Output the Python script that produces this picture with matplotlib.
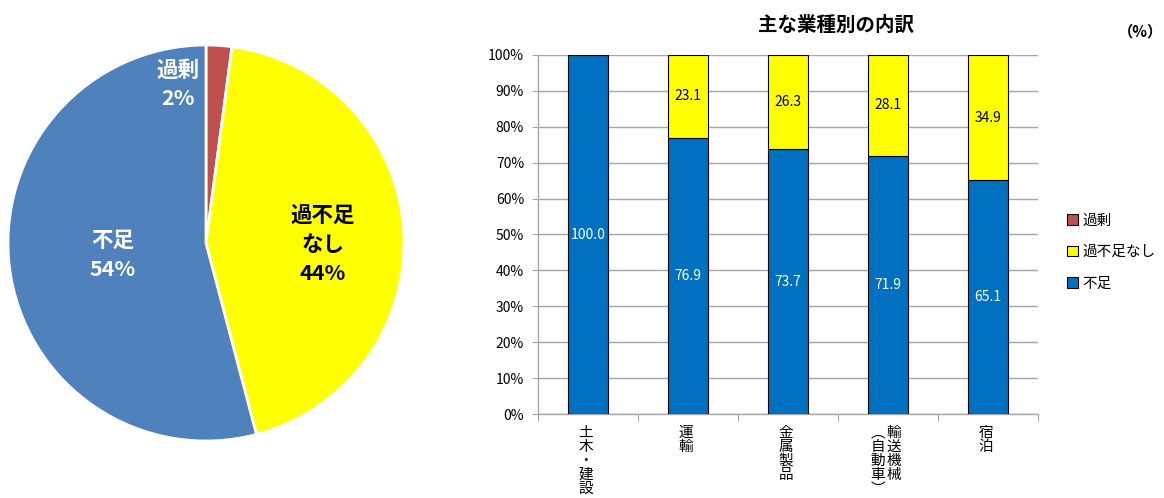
import matplotlib

matplotlib.use("Agg")

import matplotlib.pyplot as plt
import numpy as np

plt.rcParams["font.family"] = ["Noto Sans CJK JP", "DejaVu Sans"]

# pie: overall share
pie_labels = ["過剰", "過不足\nなし", "不足"]
pie_values = [2.1, 43.8, 54.1]
pie_pct = ["2%", "44%", "54%"]

# bars: breakdown by industry
industries = ["土木・建設", "運輸", "金属製品", "輸送機械", "宿泊"]
shortage = [100.0, 76.9, 73.7, 71.9, 65.1]
no_gap = [0.0, 23.1, 26.3, 28.1, 34.9]
surplus = [0.0, 0.0, 0.0, 0.0, 0.0]
series_names = ["過剰", "過不足なし", "不足"]
yticks = np.arange(0, 101, 10)

PIE_RED = "#C0504D"
PIE_YEL = "#FFFF00"
PIE_BLUE = "#4F81BD"
BAR_BLUE = "#0070C0"
BAR_YEL = "#FFFF00"
GRID = "#A6A6A6"

fig = plt.figure(figsize=(11.64, 4.98), dpi=100)

# --- pie -------------------------------------------------------------------
ax1 = fig.add_axes([8 / 1164, 57 / 498, 396 / 1164, 396 / 498])
ax1.pie(pie_values, colors=[PIE_RED, PIE_YEL, PIE_BLUE],
        startangle=90, counterclock=False, radius=1.0,
        wedgeprops=dict(edgecolor="white", linewidth=2))
ax1.set_xlim(-1, 1)
ax1.set_ylim(-1, 1)
ax1.set_aspect("equal")
ax1.axis("off")
pie_font = dict(fontsize=15.5, fontweight="bold", ha="center", va="center",
                linespacing=1.45)
ax1.text(-0.14, 0.80, f"{pie_labels[0]}\n{pie_pct[0]}", color="white", **pie_font)
ax1.text(0.59, -0.01, f"{pie_labels[1]}\n{pie_pct[1]}", color="black", **pie_font)
ax1.text(-0.47, -0.06, f"{pie_labels[2]}\n{pie_pct[2]}", color="white", **pie_font)

# --- stacked bars ----------------------------------------------------------
ax2 = fig.add_axes([538 / 1164, 84 / 498, 500 / 1164, 359 / 498])
x = np.arange(len(industries))
ax2.bar(x, shortage, width=0.4, color=BAR_BLUE, edgecolor="black",
        linewidth=0.8, zorder=3)
ax2.bar(x, no_gap, width=0.4, bottom=shortage, color=BAR_YEL,
        edgecolor="black", linewidth=0.8, zorder=3)
for i in range(len(industries)):
    ax2.text(x[i], shortage[i] / 2, f"{shortage[i]:.1f}", color="white",
             ha="center", va="center", fontsize=10, zorder=4)
    if no_gap[i] > 0:
        ax2.text(x[i], shortage[i] + no_gap[i] / 2, f"{no_gap[i]:.1f}",
                 color="black", ha="center", va="center", fontsize=10, zorder=4)

ax2.set_xlim(-0.5, len(industries) - 0.5)
ax2.set_ylim(0, 100)
ax2.set_yticks(yticks)
ax2.set_yticklabels([f"{v}%" for v in yticks], fontsize=10)
ax2.yaxis.grid(True, color=GRID, linewidth=1, zorder=0)
ax2.set_xticks(np.arange(-0.5, len(industries), 1.0))
ax2.set_xticklabels([])
ax2.tick_params(axis="x", length=5, color=GRID, direction="out")
ax2.tick_params(axis="y", length=4, color=GRID, direction="out", pad=6)
for side in ("top", "right"):
    ax2.spines[side].set_visible(False)
for side in ("left", "bottom"):
    ax2.spines[side].set_color(GRID)
    ax2.spines[side].set_linewidth(1)

# vertical category labels, one glyph per line
vfont = dict(fontsize=10.5, ha="center", va="top", linespacing=1.0)
for i, name in enumerate(industries):
    xpos = x[i]
    if name == "輸送機械":
        ax2.text(xpos + 0.06, -3.3, "\n".join(name), clip_on=False, **vfont)
        ax2.text(xpos - 0.1, -3.3, "\n".join("︵自動車︶"), clip_on=False,
                 **vfont)
    else:
        ax2.text(xpos - 0.02, -3.3, "\n".join(name), clip_on=False, **vfont)

fig.text(836 / 1164, 1 - 25 / 498, "主な業種別の内訳", fontsize=14,
         fontweight="bold", ha="center", va="center")
fig.text(1140 / 1164, 1 - 31 / 498, "（%）", fontsize=11, fontweight="bold",
         ha="center", va="center")

# legend, listed top to bottom as in the original
handles = [plt.Rectangle((0, 0), 1, 1, facecolor=c, edgecolor="black",
                         linewidth=0.8)
           for c in (PIE_RED, BAR_YEL, BAR_BLUE)]
fig.legend(handles, series_names, loc="center left",
           bbox_to_anchor=(1054 / 1164, 1 - 252 / 498), frameon=False,
           fontsize=10.5, handlelength=0.75, handleheight=0.75,
           handletextpad=0.3, labelspacing=1.2)

fig.savefig("out.png", dpi=100)
